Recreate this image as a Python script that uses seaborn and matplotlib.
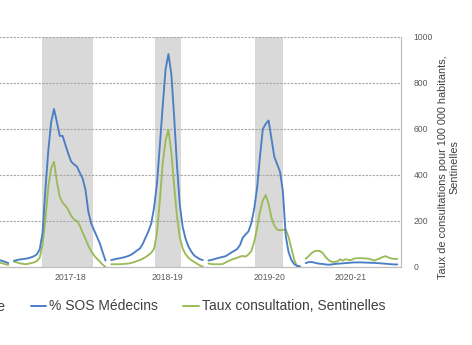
import numpy as np
import pandas as pd
import matplotlib
matplotlib.use("Agg")
import matplotlib.pyplot as plt
import seaborn as sns
from matplotlib.lines import Line2D
from matplotlib.patches import Patch

# ---------------- data ----------------
saisons = ["2016-17", "2017-18", "2018-19", "2019-20", "2020-21"]
# index of the first week of each season on the continuous weekly axis
debut_saison = [-5, 0, 34, 68, 102]

# % SOS Médecins (left axis, %)
sos_2016_17 = [0.30, 0.26, 0.22, 0.17]
sos_2017_18 = [0.27, 0.30, 0.33, 0.34, 0.36, 0.38, 0.42, 0.47, 0.55, 0.77, 1.50,
               3.40, 5.06, 6.30, 6.87, 6.30, 5.70, 5.70, 5.30, 4.92, 4.58, 4.46,
               4.37, 4.10, 3.85, 3.35, 2.40, 1.90, 1.60, 1.32, 1.03, 0.64, 0.28]
sos_2018_19 = [0.30, 0.33, 0.36, 0.38, 0.41, 0.44, 0.48, 0.54, 0.62, 0.72, 0.80,
               1.00, 1.28, 1.55, 1.90, 2.60, 3.65, 5.30, 7.00, 8.60, 9.26, 8.40,
               6.52, 4.38, 2.67, 1.73, 1.22, 0.89, 0.67, 0.50, 0.42, 0.34, 0.30]
sos_2019_20 = [0.28, 0.31, 0.34, 0.38, 0.41, 0.44, 0.47, 0.55, 0.63, 0.70, 0.78,
               0.95, 1.28, 1.42, 1.55, 1.92, 2.55, 3.45, 4.80, 6.00, 6.22, 6.37,
               5.60, 4.80, 4.47, 4.15, 3.30, 1.35, 0.65, 0.30, 0.12, 0.05, 0.03]
sos_2020_21 = [0.17, 0.21, 0.22, 0.19, 0.16, 0.14, 0.13, 0.11, 0.10, 0.11, 0.13,
               0.14, 0.15, 0.16, 0.17, 0.18, 0.19, 0.20, 0.20, 0.20, 0.20, 0.19,
               0.19, 0.18, 0.18, 0.17, 0.16, 0.15, 0.14, 0.13, 0.12, 0.11, 0.11]

# Taux de consultations pour 100 000 habitants, Sentinelles (right axis)
senti_2016_17 = [19, 16, 12, 9]
senti_2017_18 = [23, 20, 16, 14, 12, 14, 17, 20, 26, 40, 100, 210, 349, 430, 458,
                 370, 305, 280, 266, 248, 222, 207, 200, 180, 150, 122, 92, 68,
                 50, 36, 24, 10, 1]
senti_2018_19 = [12, 12, 12, 12, 13, 14, 15, 18, 21, 26, 30, 36, 43, 52, 62, 80,
                 150, 290, 450, 550, 596, 500, 351, 218, 127, 80, 55, 40, 30, 22,
                 14, 7, 2]
senti_2019_20 = [15, 13, 12, 12, 12, 13, 20, 26, 32, 36, 40, 45, 48, 45, 55, 70,
                 110, 170, 240, 290, 313, 275, 215, 180, 162, 160, 161, 163, 130,
                 80, 30, 2, 1]
senti_2020_21 = [36, 47, 60, 68, 71, 69, 60, 42, 30, 23, 22, 24, 33, 28, 34, 30,
                 31, 37, 38, 38, 38, 37, 36, 32, 28, 33, 38, 44, 47, 41, 37, 35, 35]

# epidemic periods (week index)
epi_debut = [9.9, 49.3, 84.3]
epi_fin = [27.7, 58.3, 94.2]

# x tick labels
saison_ticks = ["2017-18", "2018-19", "2019-20", "2020-21"]
saison_tick_pos = [19.6, 53.8, 89.2, 117.8]

y_ticks = [0, 200, 400, 600, 800, 1000]

sos_all = [sos_2016_17, sos_2017_18, sos_2018_19, sos_2019_20, sos_2020_21]
senti_all = [senti_2016_17, senti_2017_18, senti_2018_19, senti_2019_20, senti_2020_21]

frames = []
for s, d, a, b in zip(saisons, debut_saison, sos_all, senti_all):
    frames.append(pd.DataFrame({
        "saison": s,
        "semaine": np.arange(d, d + len(a)),
        "sos": a,
        "sentinelles": b,
    }))
df = pd.concat(frames, ignore_index=True)

# ---------------- style ----------------
sns.set_style("white")
plt.rcParams["font.family"] = ["Liberation Sans", "DejaVu Sans"]

BLUE = "#4A7EC5"
GREEN = "#9BBB59"
GRAY_BAND = "#D9D9D9"
TXT = "#404040"
TICK = "#595959"

W, H = 472, 345
fig = plt.figure(figsize=(W / 100, H / 100), dpi=100)
fig.patch.set_facecolor("white")

ax_left_px, ax_right_px = -8.9, 400.7
ax_bot_px, ax_top_px = 267, 37
ax = fig.add_axes([ax_left_px / W, (H - ax_bot_px) / H,
                   (ax_right_px - ax_left_px) / W, (ax_bot_px - ax_top_px) / H])
ax2 = ax.twinx()

for s, e in zip(epi_debut, epi_fin):
    ax.axvspan(s, e, color=GRAY_BAND, lw=0, zorder=0)

sns.lineplot(data=df, x="semaine", y="sentinelles", units="saison",
             estimator=None, color=GREEN, lw=1.35, ax=ax, legend=False, zorder=3)
sns.lineplot(data=df, x="semaine", y="sos", units="saison",
             estimator=None, color=BLUE, lw=1.35, ax=ax2, legend=False, zorder=3)

ax.set_xlim(-8, 135.2)
ax.set_ylim(0, 1000)
ax2.set_ylim(0, 10)

ax.set_yticks(y_ticks)
ax.yaxis.tick_right()
ax.yaxis.set_label_position("right")

ax.set_xticks(saison_tick_pos)
ax.set_xticklabels(saison_ticks)

ax.grid(axis="y", color="#A6A6A6", lw=0.8, linestyle=(0, (2, 1.2)))
ax.grid(axis="x", visible=False)
ax2.grid(False)

for sp in ["top", "left"]:
    ax.spines[sp].set_visible(False)
for sp in ["right", "bottom"]:
    ax.spines[sp].set_color("#BFBFBF")
    ax.spines[sp].set_linewidth(0.9)
for sp in ax2.spines.values():
    sp.set_visible(False)

ax.tick_params(axis="y", length=0, pad=9.4, labelsize=6.2, labelcolor=TICK,
               right=True, left=False, labelright=True, labelleft=False)
ax.tick_params(axis="x", length=0, pad=4, labelsize=6.2, labelcolor=TICK)
# the left (%) axis of the original lies outside the cropped picture
ax2.tick_params(axis="y", length=0, left=False, right=False,
                labelleft=False, labelright=False)

ax.set_xlabel("")
ax2.set_xlabel("")
ax2.set_ylabel("")
ax.set_ylabel("Taux de consultations pour 100 000 habitants,\nSentinelles",
              fontsize=7.8, color=TXT, linespacing=1.2, multialignment="center")
ax.yaxis.set_label_coords((437.5 - ax_left_px) / (ax_right_px - ax_left_px),
                          (ax_bot_px - 167) / (ax_bot_px - ax_top_px))

handles = [
    Patch(facecolor=GRAY_BAND, edgecolor="none", label="Période épidémique"),
    Line2D([], [], color=BLUE, lw=1.4, label="% SOS Médecins"),
    Line2D([], [], color=GREEN, lw=1.4, label="Taux consultation, Sentinelles"),
]
leg = fig.legend(handles=handles, loc="center right",
                 bbox_to_anchor=(385 / W, 1 - 306.5 / H), ncol=3, frameon=False,
                 fontsize=10, handlelength=1.1, handletextpad=0.2,
                 columnspacing=1.85, borderpad=0, borderaxespad=0)
for t in leg.get_texts():
    t.set_color(TXT)

fig.savefig("out.png", dpi=100, facecolor="white")
